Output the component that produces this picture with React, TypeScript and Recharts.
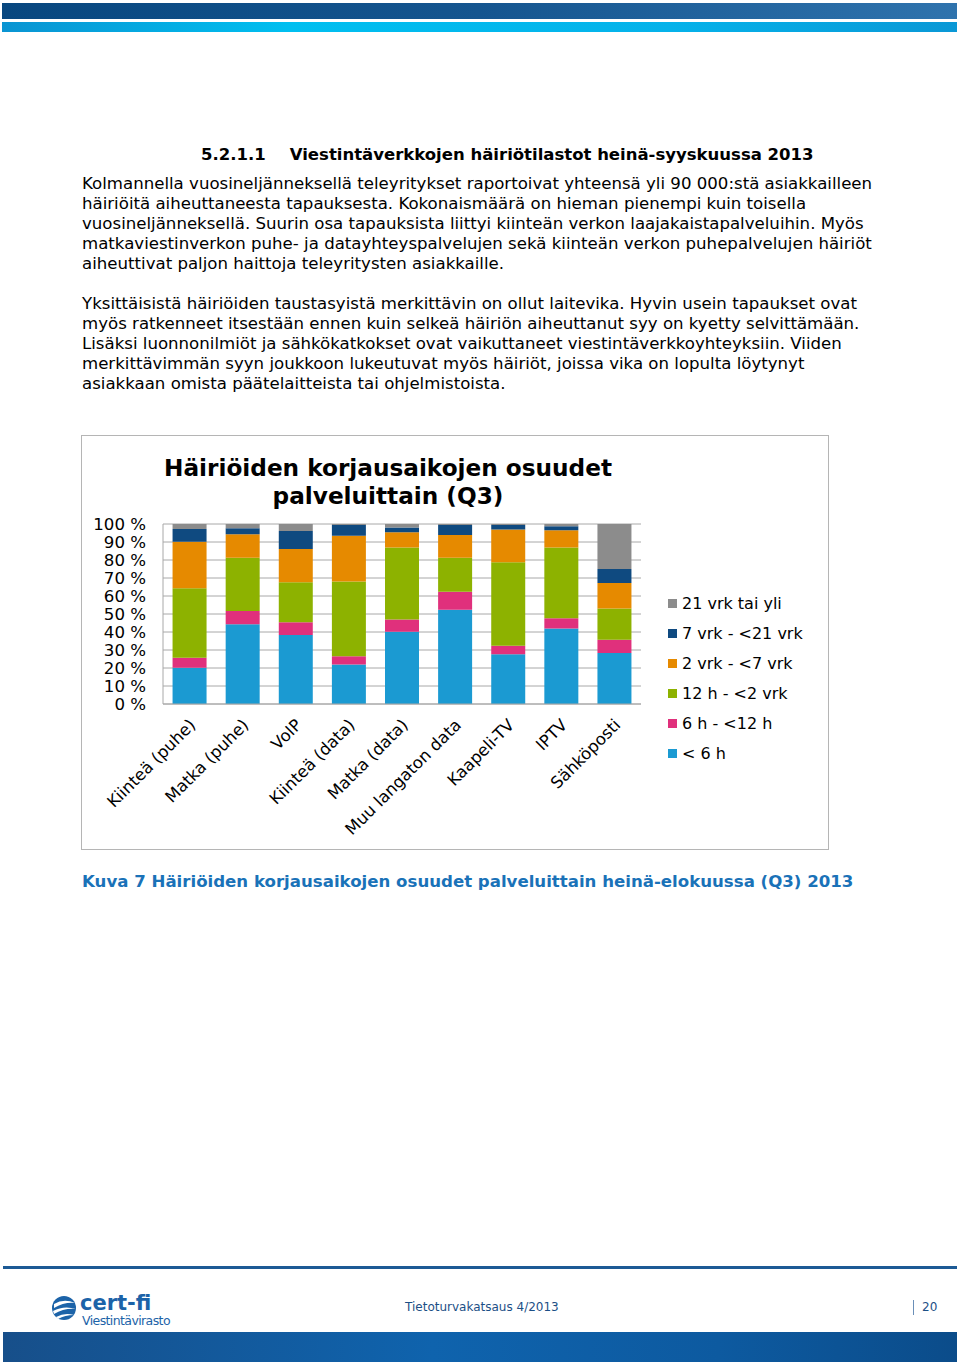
import React from 'react';
import { BarChart, Bar, XAxis, YAxis, CartesianGrid, Legend } from 'recharts';

const categories = ['Kiinteä (puhe)', 'Matka (puhe)', 'VoIP', 'Kiinteä (data)', 'Matka (data)', 'Muu langaton data', 'Kaapeli-TV', 'IPTV', 'Sähköposti'];
const under6h = [20.2, 44.3, 38.3, 22, 40.2, 52.4, 27.6, 42, 28.3];
const h6to12 = [5.5, 7.4, 7.1, 4.5, 6.7, 10, 4.8, 5.6, 7.4];
const h12to2d = [38.6, 29.6, 22.2, 41.5, 40, 18.9, 46.3, 39.3, 17.4];
const d2to7 = [25.9, 13, 18.5, 25.5, 8.5, 12.6, 18.2, 9.6, 14.1];
const d7to21 = [7, 3.3, 10, 5.9, 2.6, 5.5, 2.5, 2.2, 7.8];
const d21plus = [2.8, 2.4, 3.9, 0.6, 2, 0.6, 0.6, 1.3, 25];
const yTicks = [0, 10, 20, 30, 40, 50, 60, 70, 80, 90, 100];

const seriesNames = ['< 6 h', '6 h - <12 h', '12 h - <2 vrk', '2 vrk - <7 vrk', '7 vrk - <21 vrk', '21 vrk tai yli'];
const seriesValues = [under6h, h6to12, h12to2d, d2to7, d7to21, d21plus];
const seriesColors = ['#1b9ad2', '#e0307c', '#8db200', '#e68a00', '#0f4a80', '#8c8c8c'];

const data = categories.map((c, i) => {
  const row: Record<string, string | number> = { name: c };
  seriesValues.forEach((vals, s) => { row['s' + s] = vals[i]; });
  return row;
});

const paragraph1 = [
  'Kolmannella vuosineljänneksellä teleyritykset raportoivat yhteensä yli 90 000:stä asiakkailleen',
  'häiriöitä aiheuttaneesta tapauksesta. Kokonaismäärä on hieman pienempi kuin toisella',
  'vuosineljänneksellä. Suurin osa tapauksista liittyi kiinteän verkon laajakaistapalveluihin. Myös',
  'matkaviestinverkon puhe- ja datayhteyspalvelujen sekä kiinteän verkon puhepalvelujen häiriöt',
  'aiheuttivat paljon haittoja teleyritysten asiakkaille.',
];
const paragraph2 = [
  'Yksittäisistä häiriöiden taustasyistä merkittävin on ollut laitevika. Hyvin usein tapaukset ovat',
  'myös ratkenneet itsestään ennen kuin selkeä häiriön aiheuttanut syy on kyetty selvittämään.',
  'Lisäksi luonnonilmiöt ja sähkökatkokset ovat vaikuttaneet viestintäverkkoyhteyksiin. Viiden',
  'merkittävimmän syyn joukkoon lukeutuvat myös häiriöt, joissa vika on lopulta löytynyt',
  'asiakkaan omista päätelaitteista tai ohjelmistoista.',
];

const FONT = '"DejaVu Sans", Verdana, sans-serif';

const XTick = (props: any) => {
  const { x, y, payload } = props;
  return (
    <g transform={`translate(${x + 7},${y + 14})`}>
      <text textAnchor="end" transform="rotate(-45)" fontSize={16.5} fill="#000" fontFamily={FONT}>
        {payload.value}
      </text>
    </g>
  );
};

const LegendContent = () => (
  <div style={{ fontFamily: FONT, fontSize: 16, color: '#000' }}>
    {seriesNames.map((n, i) => seriesNames.length - 1 - i).map((idx) => (
      <div key={idx} style={{ height: 30, display: 'flex', alignItems: 'center' }}>
        <span style={{ display: 'inline-block', width: 9, height: 9, background: seriesColors[idx], marginRight: 5 }} />
        <span>{seriesNames[idx]}</span>
      </div>
    ))}
  </div>
);

const lineStyle = (top: number): React.CSSProperties => ({
  position: 'absolute', left: 82, top, whiteSpace: 'nowrap', fontFamily: FONT, fontSize: 16.6, lineHeight: '20px', color: '#000',
});

export default function App() {
  return (
    <div style={{ position: 'absolute', left: 0, top: 0, width: 960, height: 1367, background: '#fff', overflow: 'hidden' }}>
      {/* header bars */}
      <div style={{ position: 'absolute', left: 2, top: 3, width: 955, height: 16, background: 'linear-gradient(to right, #08477f, #15558f 50%, #2f73ad)' }} />
      <div style={{ position: 'absolute', left: 2, top: 22, width: 955, height: 10, background: 'linear-gradient(to right, #0a94d2, #00bff0 30%, #05b2ea 70%, #0a98d6)' }} />

      <div style={{ position: 'absolute', left: 201, top: 145, whiteSpace: 'nowrap', fontFamily: FONT, fontSize: 16.5, fontWeight: 'bold', color: '#000' }}>
        <span>5.2.1.1</span>
        <span style={{ marginLeft: 24 }}>Viestintäverkkojen häiriötilastot heinä-syyskuussa 2013</span>
      </div>

      {paragraph1.map((l, i) => (
        <div key={'a' + i} style={lineStyle(174 + i * 20)}>{l}</div>
      ))}
      {paragraph2.map((l, i) => (
        <div key={'b' + i} style={lineStyle(294 + i * 20)}>{l}</div>
      ))}

      {/* chart box */}
      <div style={{ position: 'absolute', left: 81, top: 435, width: 746, height: 413, border: '1px solid #b5b5b5', background: '#fff' }}>
        <div style={{ position: 'absolute', left: 0, width: 612, top: 18, textAlign: 'center', fontFamily: FONT, fontWeight: 'bold', fontSize: 23.2, lineHeight: '28px', color: '#000' }}>
          Häiriöiden korjausaikojen osuudet<br />palveluittain (Q3)
        </div>
        <div style={{ position: 'absolute', left: -1, top: -1 }}>
          <BarChart
            width={748}
            height={415}
            data={data}
            margin={{ top: 89, right: 188, bottom: 0, left: 0 }}
            barCategoryGap="18%"
          >
            <CartesianGrid horizontal vertical={false} stroke="#a8a8a8" strokeWidth={1} />
            <XAxis dataKey="name" interval={0} tick={<XTick />} tickLine={false} axisLine={{ stroke: '#a8a8a8' }} height={146} />
            <YAxis
              type="number"
              domain={[0, 100]}
              ticks={yTicks}
              tickFormatter={(v: number) => `${v} %`}
              width={82}
              tickLine={false}
              tickSize={6}
              tickMargin={11}
              axisLine={{ stroke: '#a8a8a8' }}
              tick={{ fontSize: 16.6, fill: '#000', fontFamily: FONT }}
              interval={0}
            />
            <Legend
              layout="horizontal"
              align="center"
              verticalAlign="middle"
              content={<LegendContent />}
              wrapperStyle={{ position: 'absolute', left: 587, top: 153, width: 160, height: 180 }}
            />
            {seriesNames.map((n, s) => (
              <Bar key={n} dataKey={'s' + s} name={n} stackId="a" fill={seriesColors[s]} isAnimationActive={false} />
            ))}
          </BarChart>
        </div>
      </div>

      <div style={{ position: 'absolute', left: 82, top: 872, whiteSpace: 'nowrap', fontFamily: FONT, fontWeight: 'bold', fontSize: 16.6, color: '#1a72b8' }}>
        Kuva 7 Häiriöiden korjausaikojen osuudet palveluittain heinä-elokuussa (Q3) 2013
      </div>

      {/* footer */}
      <div style={{ position: 'absolute', left: 3, top: 1266, width: 954, height: 3, background: '#1d5a95' }} />
      <svg style={{ position: 'absolute', left: 50, top: 1294 }} width={30} height={30}>
        <circle cx={14} cy={14} r={12} fill="#1c63a8" />
        <path d="M4 10 Q14 4 25 9 Q14 8 4 14 Z" fill="#fff" />
        <path d="M3 17 Q14 11 26 15 Q14 14 4 20 Z" fill="#fff" />
        <path d="M6 23 Q15 18 24 21 Q15 21 8 25 Z" fill="#fff" />
      </svg>
      <div style={{ position: 'absolute', left: 80, top: 1291, fontFamily: FONT, fontWeight: 'bold', fontSize: 21, color: '#1c63a8', lineHeight: '24px' }}>cert-fi</div>
      <div style={{ position: 'absolute', left: 82, top: 1313, fontFamily: FONT, fontSize: 12.5, color: '#1c63a8', letterSpacing: -0.6 }}>Viestintävirasto</div>
      <div style={{ position: 'absolute', left: 405, top: 1300, fontFamily: FONT, fontSize: 12, color: '#1c4f86' }}>Tietoturvakatsaus 4/2013</div>
      <div style={{ position: 'absolute', left: 913, top: 1300, width: 1, height: 15, background: '#6a8fb8' }} />
      <div style={{ position: 'absolute', left: 922, top: 1300, fontFamily: FONT, fontSize: 12, color: '#1c4f86' }}>20</div>
      <div style={{ position: 'absolute', left: 3, top: 1332, width: 954, height: 30, background: 'linear-gradient(to right, #174f8a, #0f63ad 45%, #0d5aa0 75%, #0b4c8a)' }} />
    </div>
  );
}
